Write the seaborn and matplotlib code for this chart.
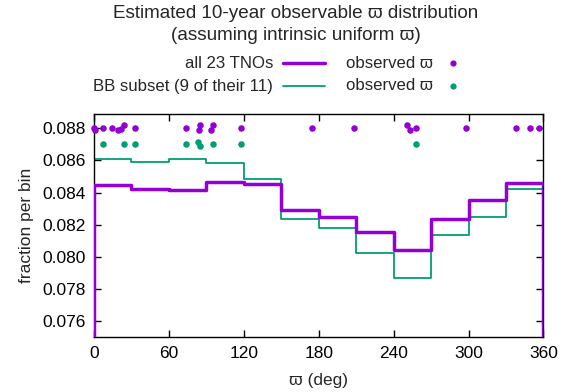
import numpy as np
import pandas as pd
import matplotlib
matplotlib.use('Agg')
import matplotlib.pyplot as plt
import seaborn as sns
from matplotlib.lines import Line2D

sns.set_style('ticks')
plt.rcParams['font.family'] = ['Liberation Sans', 'DejaVu Sans']
plt.rcParams['font.size'] = 12.5

# bin edges (deg) and fraction per bin
bin_edges = [0, 30, 60, 90, 120, 150, 180, 210, 240, 270, 300, 330, 360]
all_frac = [0.08448, 0.08423, 0.08417, 0.08465, 0.08456, 0.08294,
            0.08250, 0.08153, 0.08040, 0.08238, 0.08356, 0.08459]
bb_frac = [0.08611, 0.08590, 0.08611, 0.08584, 0.08486, 0.08236,
           0.08180, 0.08021, 0.07869, 0.08136, 0.08246, 0.08423]

# observed varpi of the TNOs
obs_all = [0.0, 1.0, 7.5, 14.7, 18.9, 21.6, 24.3, 32.8, 73.3, 84.0, 84.8, 93.6,
           95.5, 117.6, 174.7, 208.0, 250.7, 252.8, 257.9, 297.6, 337.9, 349.3, 356.8]
obs_all_y = [0.0880, 0.0879, 0.0880, 0.0880, 0.0879, 0.08795, 0.0882, 0.0880, 0.0880,
             0.0879, 0.0882, 0.0879, 0.0882, 0.0880, 0.0880, 0.0880, 0.0882, 0.0879,
             0.0880, 0.0880, 0.0880, 0.0880, 0.0880]
obs_bb = [7.5, 24.3, 32.8, 73.3, 83.6, 84.8, 95.5, 117.6, 257.9]
obs_bb_y = [0.0870, 0.0870, 0.0870, 0.0870, 0.08715, 0.0869, 0.0870, 0.0870, 0.0870]

purple = '#9400D3'
green = '#009E73'


def steps(vals):
    # outline from zero up, across the bins, and back down at 360
    x = [bin_edges[0]] + bin_edges + [bin_edges[-1]]
    y = [0.0] + list(vals) + [vals[-1], 0.0]
    return pd.DataFrame({'x': x, 'y': y})


fig = plt.figure(figsize=(5.63, 3.92), dpi=100)
ax = fig.add_axes([94 / 563, 1 - 337.3 / 392, 449.4 / 563, 223.6 / 392])

d_bb = steps(bb_frac)
d_all = steps(all_frac)
sns.lineplot(data=d_bb, x='x', y='y', estimator=None, sort=False,
             drawstyle='steps-post', color=green, lw=1.3, ax=ax, zorder=2)
sns.lineplot(data=d_all, x='x', y='y', estimator=None, sort=False,
             drawstyle='steps-post', color=purple, lw=2.5, ax=ax, zorder=3)

sns.scatterplot(x=obs_all, y=obs_all_y, color=purple, s=22, linewidth=0,
                ax=ax, zorder=4, clip_on=False)
sns.scatterplot(x=obs_bb, y=obs_bb_y, color=green, s=22, linewidth=0,
                ax=ax, zorder=4, clip_on=False)

ax.set_xlim(0, 360)
ax.set_ylim(0.075, 0.0889)
ax.set_xticks(range(0, 361, 60))
ax.set_yticks(np.arange(0.076, 0.0885, 0.002))
ax.yaxis.set_major_formatter(matplotlib.ticker.FormatStrFormatter('%.3f'))
ax.tick_params(direction='in', length=5, width=1, top=True, right=True,
               colors='black', labelsize=12.5, pad=6)
for s in ax.spines.values():
    s.set_visible(True)
    s.set_color('black')
    s.set_linewidth(1)
ax.set_xlabel('ϖ (deg)', labelpad=9)
ax.set_ylabel('fraction per bin', labelpad=6)

# title
fig.text(296 / 563, 1 - 14 / 392, 'Estimated 10-year observable ϖ distribution',
         ha='center', va='center', fontsize=13.6)
fig.text(296 / 563, 1 - 36 / 392, '(assuming intrinsic uniform ϖ)',
         ha='center', va='center', fontsize=13.6)

# gnuplot-style key
rows = [(63, 'all 23 TNOs', purple, 2.5), (86, 'BB subset (9 of their 11)', green, 1.3)]
for yy, lab, col, lw in rows:
    yf = 1 - yy / 392
    fig.text(273 / 563, yf, lab, ha='right', va='center', fontsize=12.1)
    fig.add_artist(Line2D([283 / 563, 325 / 563], [yf, yf], color=col, lw=lw,
                          transform=fig.transFigure))
    fig.text(433 / 563, yf, 'observed ϖ', ha='right', va='center', fontsize=12.1)
    fig.add_artist(Line2D([452.5 / 563], [yf], color=col, marker='o', ms=4.5,
                          mew=0, transform=fig.transFigure))

fig.savefig('out.png', dpi=100)
